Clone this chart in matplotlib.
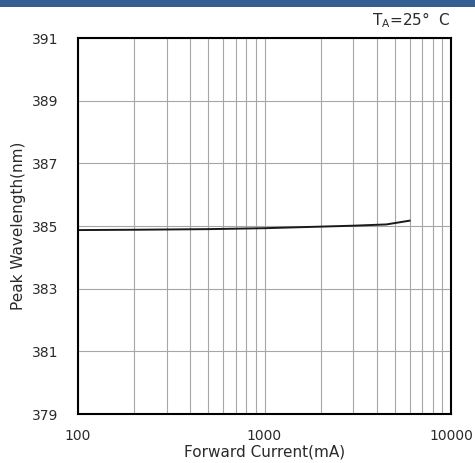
import matplotlib

matplotlib.use("Agg")
import matplotlib.pyplot as plt
from matplotlib.patches import Rectangle
from matplotlib.ticker import FixedLocator, NullFormatter

# forward current (mA) vs peak wavelength (nm)
current_ma = [100, 200, 500, 1000, 2000, 3000, 4500, 6000]
peak_nm = [384.87, 384.88, 384.90, 384.93, 384.98, 385.01, 385.05, 385.17]

x_ticks = [100, 1000, 10000]
x_tick_labels = ["100", "1000", "10000"]
y_ticks = [379, 381, 383, 385, 387, 389, 391]

TEXT_COLOR = "#2a2a2a"
GRID_COLOR = "#a6a6a6"

plt.rcParams["font.family"] = ["DejaVu Sans"]
plt.rcParams["mathtext.fontset"] = "dejavusans"

fig = plt.figure(figsize=(4.75, 4.63), dpi=100)
fig.patch.set_facecolor("white")

# dark blue band along the top edge
fig.add_artist(Rectangle((0, 1 - 7 / 463), 1, 7 / 463, transform=fig.transFigure,
                         facecolor="#345f92", edgecolor="none"))

ax = fig.add_axes([78 / 475, 49 / 463, 373 / 475, 376 / 463])

ax.plot(current_ma, peak_nm, color="#1a1a1a", linewidth=1.4)

ax.set_xscale("log")
ax.set_xlim(100, 10000)
ax.set_ylim(379, 391)

minor = [m * d for d in (100, 1000) for m in range(2, 10)]
ax.xaxis.set_major_locator(FixedLocator(x_ticks))
ax.xaxis.set_minor_locator(FixedLocator(minor))
ax.xaxis.set_minor_formatter(NullFormatter())
ax.set_xticks(x_ticks)
ax.set_xticklabels(x_tick_labels)
ax.set_yticks(y_ticks)

ax.grid(True, which="both", axis="x", color=GRID_COLOR, linewidth=0.8)
ax.grid(True, which="major", axis="y", color=GRID_COLOR, linewidth=0.8)

ax.tick_params(axis="both", which="both", length=0, labelsize=10, labelcolor=TEXT_COLOR)
ax.tick_params(axis="y", pad=14)
ax.tick_params(axis="x", pad=11)

for spine in ax.spines.values():
    spine.set_color("black")
    spine.set_linewidth(1.5)

ax.set_xlabel("Forward Current(mA)", fontsize=11, color=TEXT_COLOR, labelpad=1)
ax.set_ylabel("Peak Wavelength(nm)", fontsize=11, color=TEXT_COLOR, labelpad=4)

fig.text(451 / 475, 1 - 25 / 463, r"T$_\mathregular{A}$=25°  C", ha="right",
         va="baseline", fontsize=11, color=TEXT_COLOR)

fig.savefig("out.png", dpi=100)
